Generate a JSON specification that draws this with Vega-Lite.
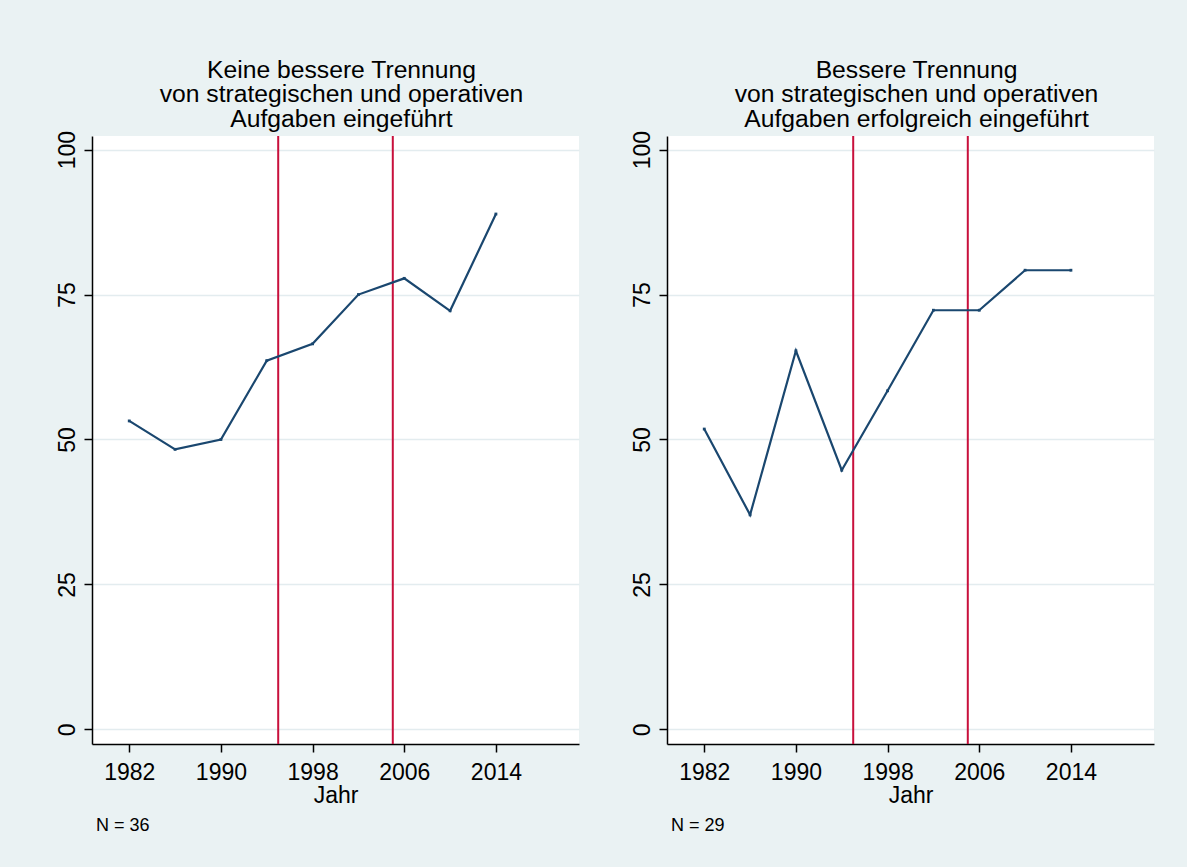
{
  "$schema": "https://vega.github.io/schema/vega-lite/v6.json",
  "background": "#EAF2F3",
  "padding": {"left": 56, "top": 57, "right": 33, "bottom": 38},
  "datasets": {
    "left": [
      {"Jahr": 1982, "Anteil": 53.2},
      {"Jahr": 1986, "Anteil": 48.3},
      {"Jahr": 1990, "Anteil": 50.0},
      {"Jahr": 1994, "Anteil": 63.6},
      {"Jahr": 1998, "Anteil": 66.5},
      {"Jahr": 2002, "Anteil": 75.0},
      {"Jahr": 2006, "Anteil": 77.8},
      {"Jahr": 2010, "Anteil": 72.2},
      {"Jahr": 2014, "Anteil": 88.9}
    ],
    "right": [
      {"Jahr": 1982, "Anteil": 51.8},
      {"Jahr": 1986, "Anteil": 37.0},
      {"Jahr": 1990, "Anteil": 65.3},
      {"Jahr": 1994, "Anteil": 44.7},
      {"Jahr": 1998, "Anteil": 58.4},
      {"Jahr": 2002, "Anteil": 72.3},
      {"Jahr": 2006, "Anteil": 72.3},
      {"Jahr": 2010, "Anteil": 79.2},
      {"Jahr": 2014, "Anteil": 79.2}
    ],
    "events": [{"Jahr": 1995}, {"Jahr": 2005}]
  },
  "config": {
    "font": "Liberation Sans",
    "view": {"fill": "white", "stroke": null},
    "axis": {
      "domainColor": "black",
      "domainWidth": 1.5,
      "tickColor": "black",
      "tickWidth": 1.5,
      "tickSize": 8,
      "labelColor": "black",
      "labelFontSize": 23,
      "titleColor": "black",
      "titleFontSize": 23,
      "titleFontWeight": "normal"
    },
    "title": {"color": "black", "fontWeight": "normal"}
  },
  "spacing": 52,
  "hconcat": [
    {
      "title": {"text": "N = 36", "orient": "bottom", "anchor": "start", "fontSize": 18, "offset": 10, "dx": 40},
      "vconcat": [
        {
          "title": {"text": ["Keine bessere Trennung", "von strategischen und operativen", "Aufgaben eingeführt"], "fontSize": 24.7, "lineHeight": 24.4, "offset": -1, "dx": 6},
          "width": 487,
          "height": 608,
          "layer": [
            {
              "data": {"name": "events"},
              "mark": {"type": "rule", "color": "#C8103C", "strokeWidth": 2},
              "encoding": {"x": {"field": "Jahr", "type": "quantitative"}}
            },
            {
              "data": {"name": "left"},
              "mark": {"type": "line", "color": "#1A476F", "strokeWidth": 2.2},
              "encoding": {
                "x": {"field": "Jahr", "type": "quantitative", "scale": {"domain": [1978.75, 2021.25], "nice": false, "zero": false},
                  "axis": {"values": [1982, 1990, 1998, 2006, 2014], "format": "d", "grid": false, "labelPadding": 9, "titlePadding": 0, "title": "Jahr"}},
                "y": {"field": "Anteil", "type": "quantitative", "scale": {"domain": [-2.54, 102.36], "nice": false, "zero": false},
                  "axis": {"values": [0, 25, 50, 75, 100], "title": null, "grid": true, "gridColor": "#E3ECEF", "gridWidth": 1.5, "labelAngle": 270, "labelAlign": "center", "labelBaseline": "alphabetic", "labelPadding": 10}}
              }
            },
            {
              "data": {"name": "left"},
              "mark": {"type": "point", "shape": "square", "filled": true, "color": "#1A476F", "size": 8, "opacity": 1},
              "encoding": {
                "x": {"field": "Jahr", "type": "quantitative"},
                "y": {"field": "Anteil", "type": "quantitative"}
              }
            }
          ]
        }
      ]
    },
    {
      "title": {"text": "N = 29", "orient": "bottom", "anchor": "start", "fontSize": 18, "offset": 10, "dx": 40},
      "vconcat": [
        {
          "title": {"text": ["Bessere Trennung", "von strategischen und operativen", "Aufgaben erfolgreich eingeführt"], "fontSize": 24.7, "lineHeight": 24.4, "offset": -1, "dx": 6},
          "width": 487,
          "height": 608,
          "layer": [
            {
              "data": {"name": "events"},
              "mark": {"type": "rule", "color": "#C8103C", "strokeWidth": 2},
              "encoding": {"x": {"field": "Jahr", "type": "quantitative"}}
            },
            {
              "data": {"name": "right"},
              "mark": {"type": "line", "color": "#1A476F", "strokeWidth": 2.2},
              "encoding": {
                "x": {"field": "Jahr", "type": "quantitative", "scale": {"domain": [1978.75, 2021.25], "nice": false, "zero": false},
                  "axis": {"values": [1982, 1990, 1998, 2006, 2014], "format": "d", "grid": false, "labelPadding": 9, "titlePadding": 0, "title": "Jahr"}},
                "y": {"field": "Anteil", "type": "quantitative", "scale": {"domain": [-2.54, 102.36], "nice": false, "zero": false},
                  "axis": {"values": [0, 25, 50, 75, 100], "title": null, "grid": true, "gridColor": "#E3ECEF", "gridWidth": 1.5, "labelAngle": 270, "labelAlign": "center", "labelBaseline": "alphabetic", "labelPadding": 10}}
              }
            },
            {
              "data": {"name": "right"},
              "mark": {"type": "point", "shape": "square", "filled": true, "color": "#1A476F", "size": 8, "opacity": 1},
              "encoding": {
                "x": {"field": "Jahr", "type": "quantitative"},
                "y": {"field": "Anteil", "type": "quantitative"}
              }
            }
          ]
        }
      ]
    }
  ]
}
